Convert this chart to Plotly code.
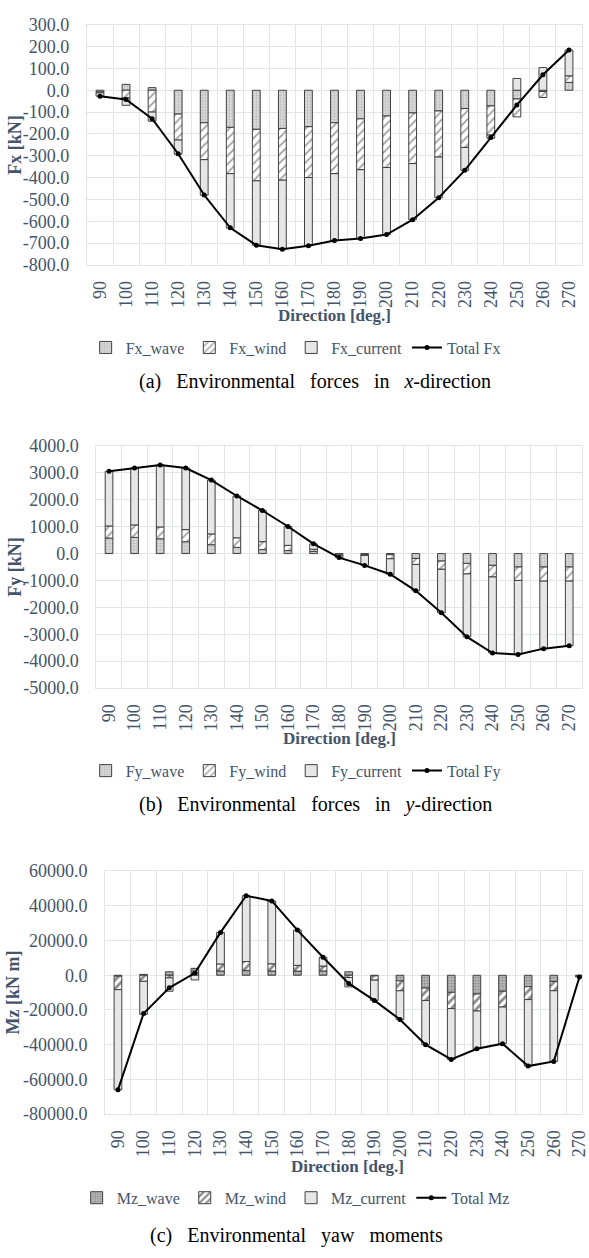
import plotly.graph_objects as go

directions = ["90", "100", "110", "120", "130", "140", "150", "160", "170", "180",
              "190", "200", "210", "220", "230", "240", "250", "260", "270"]

# (a) forces in x-direction [kN]
fx_wave = [-8, 27, 12, -109, -149, -170, -179, -175, -167, -149, -131, -118, -104, -95, -84, -72, -40, -6, 36]
fx_wind = [-4, -35, -100, -119, -169, -212, -236, -237, -233, -233, -233, -236, -232, -211, -178, -133, -82, -27, 30]
fx_current = [-15, -34, -42, -65, -163, -250, -295, -316, -312, -306, -315, -307, -257, -186, -105, -15, 54, 104, 118]
fx_total = [-27, -42, -130, -291, -480, -630, -710, -728, -712, -688, -679, -661, -593, -492, -367, -217, -68, 71, 184]

# (b) forces in y-direction [kN]
fy_wave = [575, 600, 550, 440, 330, 230, 147, 110, 80, -20, -40, -45, -180, -280, -367, -440, -500, -500, -500]
fy_wind = [450, 465, 440, 450, 400, 355, 295, 195, 80, -40, -30, -150, -225, -305, -390, -430, -500, -525, -525]
fy_current = [2030, 2115, 2300, 2290, 2000, 1555, 1160, 700, 200, -90, -370, -575, -980, -1620, -2340, -2830, -2755, -2510, -2400]
fy_total = [3058, 3180, 3290, 3180, 2730, 2140, 1600, 1005, 360, -150, -440, -770, -1385, -2205, -3097, -3700, -3755, -3535, -3425]

# (c) yaw moments [kN m]
mz_wave = [-500, 500, 2000, 1500, 2500, 2800, 2500, 2400, 2500, 2000, -300, -3200, -7400, -9800, -10800, -9200, -6600, -3600, -200]
mz_wind = [-7800, -3500, -1500, 2500, 4000, 5100, 4100, 3300, 2800, -1300, -2500, -5700, -7100, -9400, -9800, -9100, -7400, -5300, -300]
mz_current = [-57700, -19000, -7700, -2700, 18200, 37900, 36200, 20300, 5100, -5400, -11700, -16600, -25500, -29300, -21700, -21100, -38300, -40700, -500]
mz_total = [-66000, -22000, -7200, 1300, 24700, 45800, 42800, 26000, 10400, -4700, -14500, -25500, -40000, -48500, -42300, -39400, -52300, -49600, -1000]

W, H = 589, 1258
SLATE = "#44546a"
GRID = "#e2e5ea"
SERIF = "Liberation Serif"
OUTLINE = dict(color="#404040", width=1)

panels = [
    dict(ax="", leg="legend", name="Fx", unit="Fx [kN]",
         data=(fx_wave, fx_wind, fx_current, fx_total),
         yr=(-800, 300), dt=100, left=88, top=15, bottom=259, xr=18.5,
         dark=False),
    dict(ax="2", leg="legend2", name="Fy", unit="Fy [kN]",
         data=(fy_wave, fy_wind, fy_current, fy_total),
         yr=(-5000, 4000), dt=1000, left=97.4, top=443, bottom=689, xr=18.5,
         dark=False),
    dict(ax="3", leg="legend3", name="Mz", unit="Mz [kN m]",
         data=(mz_wave, mz_wind, mz_current, mz_total),
         yr=(-80000, 60000), dt=20000, left=106.4, top=875, bottom=1122, xr=18.1,
         dark=True),
]

fig = go.Figure()
layout = {}
for p in panels:
    wave, wind, cur, tot = p["data"]
    xa, ya = "x" + p["ax"], "y" + p["ax"]
    wave_pat = dict(shape=".", fgcolor="#555555" if p["dark"] else "#9a9a9a",
                    bgcolor="#c8c8c8" if p["dark"] else "#e2e2e2", size=3, solidity=0.5)
    wind_pat = dict(shape="/", fgcolor="#111111" if p["dark"] else "#404040",
                    bgcolor="white", size=6, solidity=0.45 if p["dark"] else 0.3)
    fig.add_trace(go.Bar(x=directions, y=wave, name=p["name"] + "_wave", width=0.3,
                         marker=dict(color="#dedede", pattern=wave_pat, line=OUTLINE),
                         xaxis=xa, yaxis=ya, legend=p["leg"]))
    fig.add_trace(go.Bar(x=directions, y=wind, name=p["name"] + "_wind", width=0.3,
                         marker=dict(color="white", pattern=wind_pat, line=OUTLINE),
                         xaxis=xa, yaxis=ya, legend=p["leg"]))
    fig.add_trace(go.Bar(x=directions, y=cur, name=p["name"] + "_current", width=0.3,
                         marker=dict(color="#e6e6e6", line=OUTLINE),
                         xaxis=xa, yaxis=ya, legend=p["leg"]))
    fig.add_trace(go.Scatter(x=directions, y=tot, name="Total " + p["name"],
                             mode="lines+markers", line=dict(color="black", width=2),
                             marker=dict(color="black", size=5),
                             xaxis=xa, yaxis=ya, legend=p["leg"]))

    ticks = list(range(p["yr"][0], p["yr"][1] + 1, p["dt"]))
    layout["xaxis" + p["ax"]] = dict(
        type="category", domain=[p["left"] / W, 1], range=[-0.5, p["xr"]],
        anchor=ya, tickson="boundaries", showgrid=True, gridcolor=GRID,
        showline=True, mirror=True, linecolor=GRID, ticks="",
        tickangle=-90, ticklabelstandoff=8,
        tickfont=dict(family=SERIF, size=18, color=SLATE), fixedrange=True)
    layout["yaxis" + p["ax"]] = dict(
        domain=[1 - p["bottom"] / H, 1 - p["top"] / H], range=list(p["yr"]),
        anchor=xa, tickvals=ticks, ticktext=[f"{v:.1f}" for v in ticks],
        showgrid=True, gridcolor=GRID, zeroline=False,
        showline=True, mirror=True, linecolor=GRID, ticks="",
        ticklabelstandoff=13,
        tickfont=dict(family=SERIF, size=18, color=SLATE), fixedrange=True)

legend_y = [343, 773, 1207]
for p, ly in zip(panels, legend_y):
    layout[p["leg"]] = dict(orientation="h", x=0.508, xanchor="center",
                            y=1 - ly / H, yanchor="middle",
                            font=dict(family=SERIF, size=16, color=SLATE),
                            itemwidth=30, tracegroupgap=0, bgcolor="rgba(0,0,0,0)")

annotations = []
# y-axis titles
for p, xpos in zip(panels, [15, 15, 13]):
    annotations.append(dict(text="<b>" + p["unit"] + "</b>", xref="paper", yref="paper",
                            x=xpos / W, y=1 - (p["top"] + p["bottom"]) / 2 / H,
                            textangle=-90, showarrow=False, xanchor="center", yanchor="middle",
                            font=dict(family=SERIF, size=18, color=SLATE)))
# x-axis titles
for p, ty in zip(panels, [310, 740, 1175]):
    annotations.append(dict(text="<b>Direction [deg.]</b>", xref="paper", yref="paper",
                            x=(p["left"] + 589 + (7 if p["dark"] else 0)) / 2 / W, y=1 - ty / H,
                            showarrow=False, xanchor="center", yanchor="middle",
                            font=dict(family=SERIF, size=17, color=SLATE)))
# captions
sp = "\u00a0\u00a0\u00a0"
captions = [("(a)" + sp + "Environmental" + sp + "forces" + sp + "in" + sp + "<i>x</i>-direction", 319, 377),
            ("(b)" + sp + "Environmental" + sp + "forces" + sp + "in" + sp + "<i>y</i>-direction", 319, 807),
            ("(c)" + sp + "Environmental" + sp + "yaw" + sp + "moments", 300, 1245)]
for txt, cx, cy in captions:
    annotations.append(dict(text=txt, xref="paper", yref="paper", x=cx / W, y=1 - cy / H,
                            showarrow=False, xanchor="center", yanchor="middle",
                            font=dict(family=SERIF, size=20, color="black")))

fig.update_layout(
    width=W, height=H, margin=dict(l=0, r=0, t=0, b=0),
    paper_bgcolor="white", plot_bgcolor="white",
    barmode="relative", annotations=annotations, **layout,
)
# the page body has a default 8px margin; drop it so the figure fills the window
fig.write_html("out.html", config={"displayModeBar": False},
               post_script="document.body.style.margin='0px';")
